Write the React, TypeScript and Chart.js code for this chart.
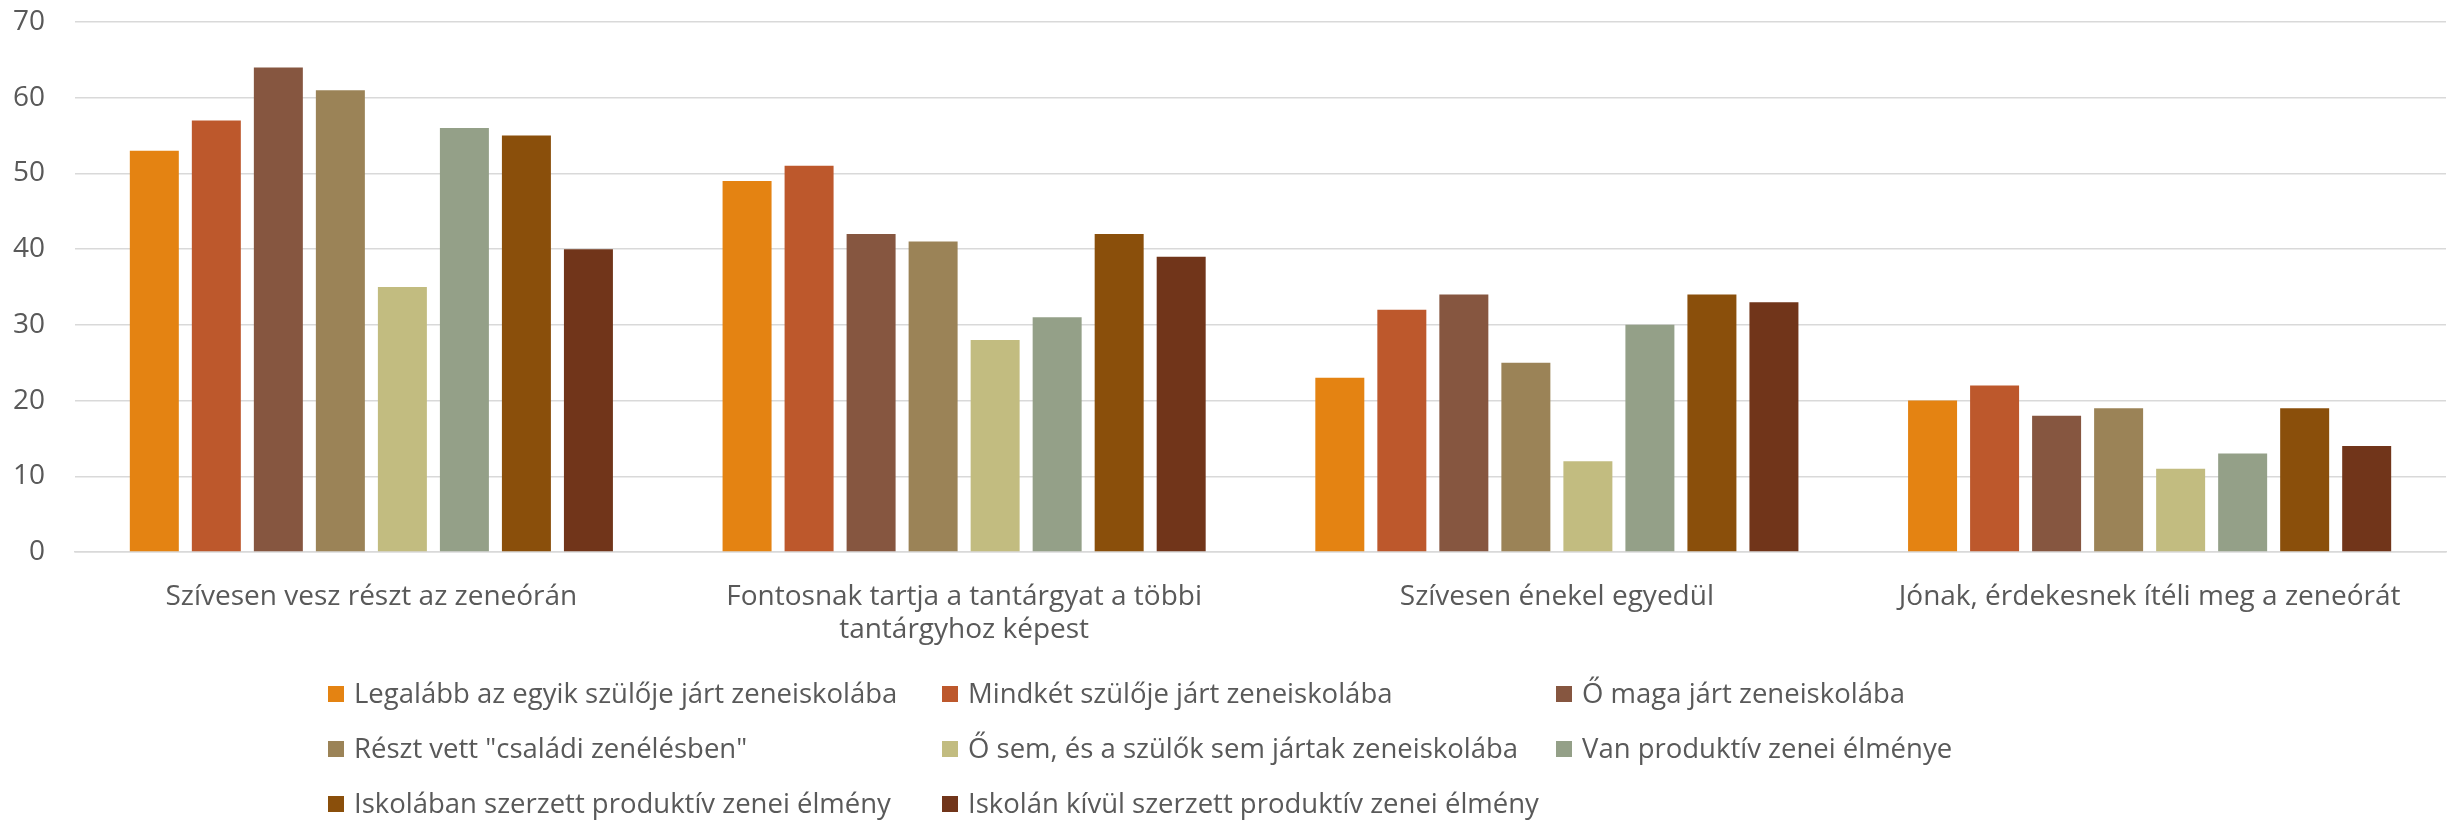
import React, { useEffect, useRef } from "react";
import { Chart, registerables } from "chart.js";

Chart.register(...registerables);

const CATEGORIES: (string | string[])[] = [
  "Szívesen vesz részt az zeneórán",
  ["Fontosnak tartja a tantárgyat a többi", "tantárgyhoz képest"],
  "Szívesen énekel egyedül",
  "Jónak, érdekesnek ítéli meg a zeneórát",
];

const SERIES_LABELS = [
  "Legalább az egyik szülője járt zeneiskolába",
  "Mindkét szülője járt zeneiskolába",
  "Ő maga járt zeneiskolába",
  'Részt vett "családi zenélésben"',
  "Ő sem, és a szülők sem jártak zeneiskolába",
  "Van produktív zenei élménye",
  "Iskolában szerzett produktív zenei élmény",
  "Iskolán kívül szerzett produktív zenei élmény",
];

const SERIES_COLORS = [
  "#E48312",
  "#BD582C",
  "#865640",
  "#9B8357",
  "#C2BC80",
  "#94A088",
  "#8A4F0B",
  "#71351A",
];

const S1 = [53, 49, 23, 20];
const S2 = [57, 51, 32, 22];
const S3 = [64, 42, 34, 18];
const S4 = [61, 41, 25, 19];
const S5 = [35, 28, 12, 11];
const S6 = [56, 31, 30, 13];
const S7 = [55, 42, 34, 19];
const S8 = [40, 39, 33, 14];

const SERIES_VALUES = [S1, S2, S3, S4, S5, S6, S7, S8];

const Y_MIN = 0;
const Y_MAX = 70;
const Y_STEP = 10;

const TEXT_COLOR = "#595959";
const GRID_COLOR = "#D9D9D9";
const FONT_FAMILY = '"Open Sans", "Noto Sans", sans-serif';

const LEGEND_FONT_SIZE = 27.5;
const LEGEND_LEFT = 328;
const LEGEND_COL_W = 614;
const LEGEND_ROW_H = 55;
const LEGEND_TOP_OFFSET = 32;
const LEGEND_BOX = 16;
const LEGEND_TEXT_GAP = 10;

const legendGrid = {
  id: "legendGrid",
  afterDraw(chart: any) {
    const ctx = chart.ctx as CanvasRenderingContext2D;
    const xScale = chart.scales.x;
    ctx.save();
    ctx.font = `${LEGEND_FONT_SIZE}px ${FONT_FAMILY}`;
    ctx.textBaseline = "middle";
    ctx.textAlign = "left";
    chart.data.datasets.forEach((ds: any, i: number) => {
      const col = i % 3;
      const row = Math.floor(i / 3);
      const x = LEGEND_LEFT + col * LEGEND_COL_W;
      const y = xScale.bottom + LEGEND_TOP_OFFSET + row * LEGEND_ROW_H;
      ctx.fillStyle = ds.backgroundColor;
      ctx.fillRect(x, y - LEGEND_BOX / 2, LEGEND_BOX, LEGEND_BOX);
      ctx.fillStyle = TEXT_COLOR;
      ctx.fillText(ds.label, x + LEGEND_BOX + LEGEND_TEXT_GAP, y + 1);
    });
    ctx.restore();
  },
};

export default function App() {
  const canvasRef = useRef<HTMLCanvasElement | null>(null);

  useEffect(() => {
    document.body.style.margin = "0";
    const canvas = canvasRef.current;
    if (!canvas) return;
    const chart = new Chart(canvas, {
      type: "bar",
      data: {
        labels: CATEGORIES,
        datasets: SERIES_LABELS.map((label, i) => ({
          label,
          data: SERIES_VALUES[i],
          backgroundColor: SERIES_COLORS[i],
          borderWidth: 0,
          categoryPercentage: 0.837,
          barPercentage: 0.79,
        })),
      },
      options: {
        animation: false,
        responsive: true,
        maintainAspectRatio: false,
        layout: { padding: { top: 22, right: 9, bottom: 158, left: 0 } },
        plugins: {
          legend: { display: false },
          tooltip: { enabled: false },
          title: { display: false },
        },
        scales: {
          x: {
            grid: { display: false, drawTicks: false },
            border: { display: true, color: GRID_COLOR, width: 1.5 },
            ticks: {
              color: TEXT_COLOR,
              font: { family: FONT_FAMILY, size: 28, lineHeight: 1.2 },
              padding: 28,
              maxRotation: 0,
              autoSkip: false,
            },
            afterFit: (scale: any) => {
              scale.height = 110;
            },
          },
          y: {
            min: Y_MIN,
            max: Y_MAX,
            grid: { color: GRID_COLOR, lineWidth: 1.5, drawTicks: false },
            border: { display: false },
            ticks: {
              stepSize: Y_STEP,
              color: TEXT_COLOR,
              font: { family: FONT_FAMILY, size: 28 },
              padding: 30,
            },
            afterFit: (scale: any) => {
              scale.width = 75;
              scale.paddingTop = 0;
              scale.paddingBottom = 0;
            },
          },
        },
      },
      plugins: [legendGrid],
    });
    return () => chart.destroy();
  }, []);

  return (
    <div style={{ width: 2455, height: 820, position: "relative" }}>
      <canvas ref={canvasRef} />
    </div>
  );
}
